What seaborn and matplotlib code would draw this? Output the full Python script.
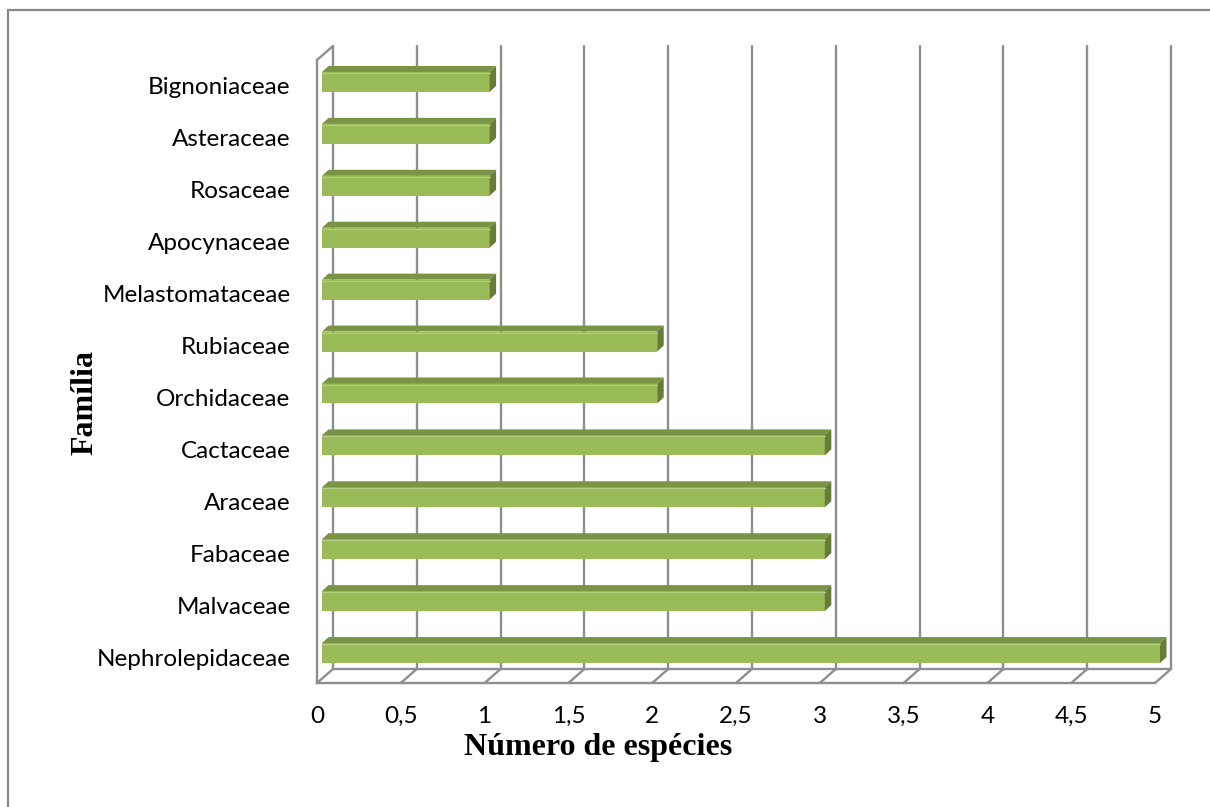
import numpy as np
import matplotlib
matplotlib.use("Agg")
import matplotlib.pyplot as plt
import matplotlib.transforms as mtransforms
from matplotlib.patches import Polygon
from matplotlib.lines import Line2D
import seaborn as sns

familias = ["Bignoniaceae", "Asteraceae", "Rosaceae", "Apocynaceae", "Melastomataceae",
            "Rubiaceae", "Orchidaceae", "Cactaceae", "Araceae", "Fabaceae",
            "Malvaceae", "Nephrolepidaceae"]
especies = [1, 1, 1, 1, 1, 2, 2, 3, 3, 3, 3, 5]
xticks = [0, 0.5, 1, 1.5, 2, 2.5, 3, 3.5, 4, 4.5, 5]
xticklabels = ["0", "0,5", "1", "1,5", "2", "2,5", "3", "3,5", "4", "4,5", "5"]

sns.set_style("white")
plt.rcParams["font.family"] = ["Lato", "DejaVu Sans"]
plt.rcParams["text.color"] = "black"

W, H = 1210, 807
fig = plt.figure(figsize=(W / 100, H / 100), dpi=100)
L, R, T, B = 317, 1155, 60, 683
ax = fig.add_axes([L / W, (H - B) / H, (R - L) / W, (B - T) / H])

front = "#9bbb59"
topc = "#7a9446"
sidec = "#667c37"
grid = "#8e8e8e"

sns.barplot(x=especies, y=familias, orient="h", color=front, saturation=1,
            width=0.385, ax=ax, zorder=3)
ax.set_xlim(0, 5)
ax.set_ylim(11.5, -0.5)

ppx = (R - L) / 5.0
ppy = (B - T) / 12.0
off = mtransforms.offset_copy(ax.transData, fig=fig, x=5, y=4, units="dots")
ddx = 6.5 / ppx
ddy = 6.0 / ppy

for p in list(ax.patches):
    p.set_transform(off)
    p.set_edgecolor("none")
    p.set_clip_on(False)
    x0, y0, w, h = p.get_x(), p.get_y(), p.get_width(), p.get_height()
    top = Polygon([(x0, y0), (x0 + w, y0), (x0 + w + ddx, y0 - ddy), (x0 + ddx, y0 - ddy)],
                  closed=True, facecolor=topc, edgecolor="none", transform=off, zorder=3,
                  clip_on=False)
    side = Polygon([(x0 + w, y0), (x0 + w, y0 + h), (x0 + w + ddx, y0 + h - ddy), (x0 + w + ddx, y0 - ddy)],
                   closed=True, facecolor=sidec, edgecolor="none", transform=off, zorder=3,
                   clip_on=False)
    ax.add_patch(top)
    ax.add_patch(side)
    ax.plot([x0, x0 + w], [y0 + 0.02, y0 + 0.02], color="#b5cf82", lw=0.8, transform=off,
            zorder=3.5, clip_on=False)

# back wall / floor geometry
bx = 16 / ppx
by = 14 / ppy
lw = 1.7
for v in xticks:
    ax.plot([v + bx, v + bx], [-0.5 - by, 11.5 - by], color=grid, lw=lw, zorder=1, clip_on=False)
    ax.plot([v, v + bx], [11.5, 11.5 - by], color=grid, lw=lw, zorder=1, clip_on=False)
ax.plot([bx, 5 + bx], [11.5 - by, 11.5 - by], color=grid, lw=lw, zorder=1, clip_on=False)
ax.plot([0, bx], [-0.5, -0.5 - by], color=grid, lw=lw, zorder=1, clip_on=False)

for s in ["top", "right"]:
    ax.spines[s].set_visible(False)
for s in ["left", "bottom"]:
    ax.spines[s].set_color(grid)
    ax.spines[s].set_linewidth(lw)

fs = 17.5
ax.set_xticks(xticks)
ax.set_xticklabels(xticklabels, fontsize=fs, color="black")
ax.tick_params(axis="x", direction="out", length=5.8, width=lw, color=grid, pad=11)
ax.set_yticks(range(len(familias)))
ax.set_yticklabels(familias, fontsize=fs, color="black")
ax.tick_params(axis="y", which="major", length=0, pad=19)
ax.set_yticks(np.arange(-0.5, 11.6, 1.0), minor=True)
ax.tick_params(axis="y", which="minor", direction="out", length=6.5, width=lw, color=grid)
ax.set_xlabel("")
ax.set_ylabel("")
ax.grid(False)

fig.text(598 / W, 1 - 748 / H, "Número de espécies", family="Liberation Serif",
         fontweight="bold", fontsize=23, ha="center", va="center", color="black")
fig.text(85 / W, 1 - 402 / H, "Família", family="Liberation Serif",
         fontweight="bold", fontsize=23, ha="center", va="center", rotation=90, color="black")

bc = "#868686"
fig.add_artist(Line2D([8 / W, 8 / W], [0, 1 - 10 / H], transform=fig.transFigure, color=bc, lw=1.6))
fig.add_artist(Line2D([8 / W, 1], [1 - 10 / H, 1 - 10 / H], transform=fig.transFigure, color=bc, lw=1.6))

fig.savefig("out.png", dpi=100)
